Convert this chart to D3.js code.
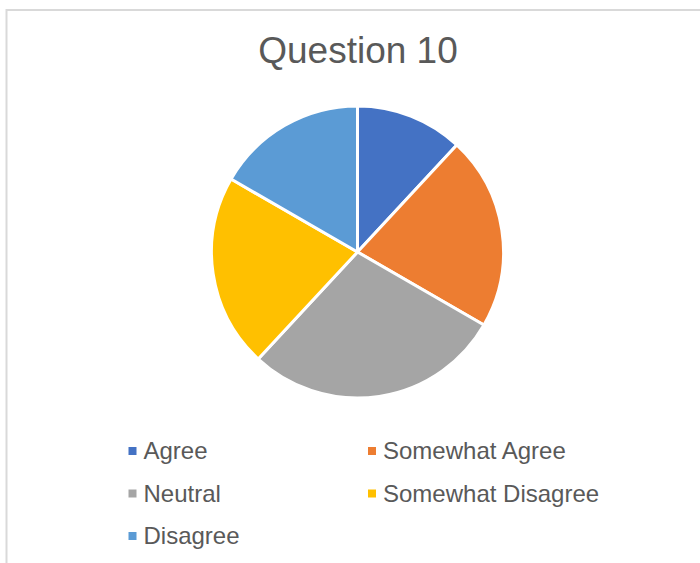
<!DOCTYPE html>
<html>
<head>
<meta charset="utf-8">
<script src="https://cdn.jsdelivr.net/npm/d3@7"></script>
<style>
  html, body { margin: 0; padding: 0; background: #fff; }
  svg { display: block; }
  text { font-family: "Liberation Sans", Arial, sans-serif; fill: #595959; }
</style>
</head>
<body>
<svg id="chart" width="700" height="563"></svg>
<script>
// Survey responses for question 10
const categories = ["Agree", "Somewhat Agree", "Neutral", "Somewhat Disagree", "Disagree"];
const counts = [5, 9, 12, 9, 7];
const colors = ["#4472C4", "#ED7D31", "#A5A5A5", "#FFC000", "#5B9BD5"];
const title = "Question 10";

const data = categories.map((c, i) => ({ name: c, value: counts[i], color: colors[i] }));

const svg = d3.select("#chart");

// chart frame
svg.append("rect")
  .attr("x", 6.5).attr("y", 10)
  .attr("width", 720).attr("height", 600)
  .attr("fill", "#fff")
  .attr("stroke", "#d9d9d9")
  .attr("stroke-width", 2);

svg.append("text")
  .attr("x", 358).attr("y", 63)
  .attr("text-anchor", "middle")
  .style("font-size", "37px")
  .text(title);

// pie
const cx = 357.5, cy = 252, r = 146;
const pie = d3.pie().sort(null).value(d => d.value);
const arc = d3.arc().innerRadius(0).outerRadius(r);

svg.append("g")
  .attr("transform", `translate(${cx},${cy})`)
  .selectAll("path")
  .data(pie(data))
  .join("path")
  .attr("d", arc)
  .attr("fill", d => d.data.color)
  .attr("stroke", "#fff")
  .attr("stroke-width", 3)
  .attr("stroke-linejoin", "round");

// legend, two columns
const colX = [128.5, 368];
const rowY = [451, 493.5, 536];
const legend = svg.append("g")
  .selectAll("g")
  .data(data)
  .join("g")
  .attr("transform", (d, i) => `translate(${colX[i % 2]},${rowY[Math.floor(i / 2)]})`);

legend.append("rect")
  .attr("x", 0).attr("y", -4)
  .attr("width", 8).attr("height", 8)
  .attr("fill", d => d.color);

legend.append("text")
  .attr("x", 15).attr("y", 8)
  .style("font-size", "24px")
  .text(d => d.name);
</script>
</body>
</html>
